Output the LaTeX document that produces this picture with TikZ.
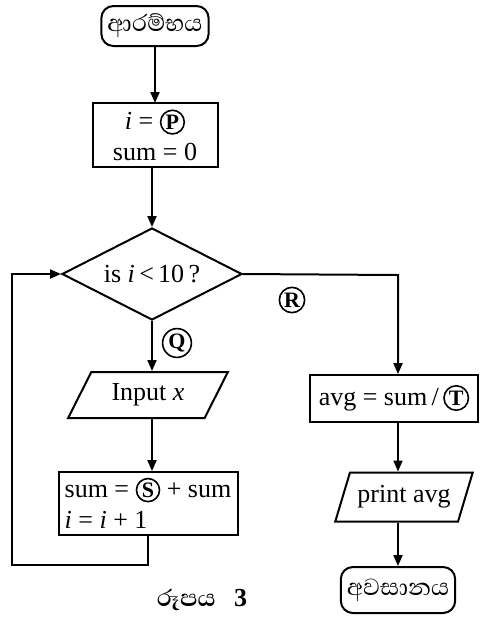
\documentclass[tikz,border=0pt]{standalone}
\usepackage{fontspec}
\setmainfont{Liberation Serif}
\newfontfamily\sinhala[Script=Sinhala,Scale=1.15]{Abhaya Libre}
\usetikzlibrary{shapes.geometric,arrows.meta}

\newcommand{\circled}[1]{\tikz[baseline=(lt.base)]\node[draw,shape=circle,minimum width=0pt,minimum height=0pt,line width=0.8pt,inner sep=0.7pt,font=\bfseries\fontsize{11}{12}\selectfont](lt){#1};}

\begin{document}
\begin{tikzpicture}[x=0.5pt,y=-0.5pt,line width=1pt,>={Triangle[length=5.5pt,width=4.5pt]},
  font=\fontsize{13}{15.5}\selectfont,
  term/.style={draw,rounded corners=6pt,minimum width=53pt,minimum height=20pt,inner sep=3pt},
  proc/.style={draw,inner sep=3pt},
  decide/.style={draw,diamond,aspect=2,inner sep=1pt,minimum width=90pt,minimum height=46pt},
  io/.style={draw,trapezium,trapezium stretches=true,inner sep=2pt},
  tag/.style={draw,circle,line width=0.8pt,inner sep=0.7pt,font=\bfseries\fontsize{11}{12}\selectfont}]
\useasboundingbox (0,0) rectangle (480,623);
\node[term] (start) at (155,26) {\sinhala ආරම්භය};
\node[proc,minimum width=62.5pt,minimum height=31.5pt,align=center] (init) at (155,135) {\textit{i} = \circled{P}\\sum = 0};
\node[decide] (cond) at (152,274) {is \textit{i}\,<\,10\,?};
\node[io,trapezium left angle=61.5,trapezium right angle=118.5,minimum width=80pt,minimum height=23pt] (input) at (148,395) {Input \textit{x}};
\node[proc,minimum width=89.5pt,minimum height=31.5pt,align=left] (sum) at (148,503) {sum = \circled{S} + sum\\\textit{i} = \textit{i} + 1};
\node[proc,minimum width=84pt,minimum height=23.5pt] (avg) at (394,398) {avg = sum\,/\,\circled{T}};
\node[io,trapezium left angle=66,trapezium right angle=114,minimum width=69pt,minimum height=24.5pt] (print) at (404,497) {print avg};
\node[term,minimum width=56pt,minimum height=23pt] (stop) at (398,590) {\sinhala අවසානය};
\node[tag] (q) at (177,343) {Q};
\node[tag] (r) at (292,300) {R};
\node (caption) at (202,600) {{\sinhala\bfseries රූපය}\hspace{0.7em}\textbf{3}};
\coordinate (turn) at (398,275);
\coordinate (back) at (12,565);
\draw[->] (start.south -| init) -- (init);
\draw[->] (init.south -| cond) -- (cond);
\draw[->] (cond) -- (cond |- input.north);
\draw[->] (cond |- input.south) -- (cond |- sum.north);
\draw[->] (sum.south) |- (back) |- (cond.west);
\draw[->] (cond.east) -- (turn) -- (turn |- avg.north);
\draw[->] (turn |- avg.south) -- (turn |- print.north);
\draw[->] (turn |- print.south) -- (stop);
\end{tikzpicture}
\end{document}
